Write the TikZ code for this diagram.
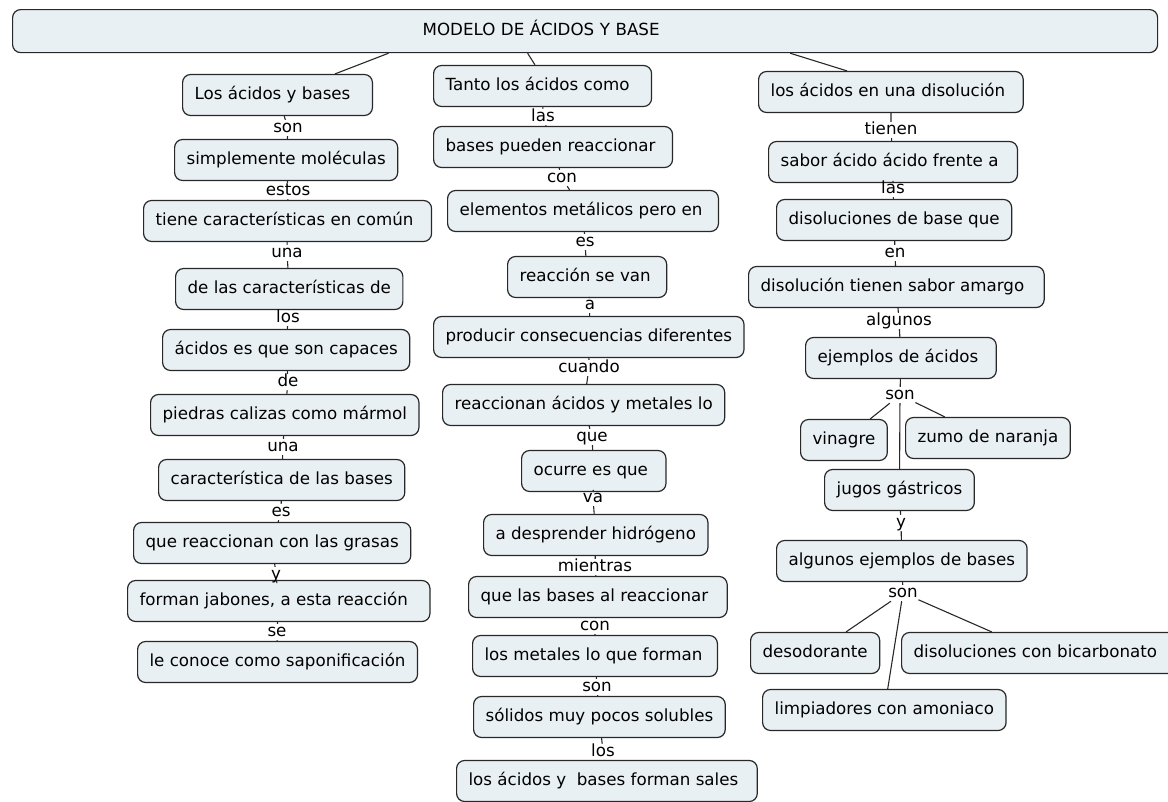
\documentclass[tikz,border=0pt]{standalone}
\usepackage{fontspec}
\setmainfont{DejaVu Sans}
\newcommand\mapfont{\fontsize{16.7pt}{20pt}\selectfont}
\definecolor{boxfill}{RGB}{233,240,243}
\definecolor{boxline}{RGB}{40,40,40}
\begin{document}
\begin{tikzpicture}[x=1pt,y=-1pt,
  cbox/.style={draw=boxline, line width=1.2pt, fill=boxfill, rounded corners=8pt,
    font=\mapfont, inner xsep=12pt, inner ysep=0pt, minimum height=41pt,
    text height=12.5pt, text depth=3.5pt, anchor=west},
  padr/.style={execute at end node={\hspace*{#1}}},
  lab/.style={font=\mapfont, inner sep=0.5pt, text height=12pt, text depth=3pt},
  link/.style={draw=boxline, line width=1.1pt}]
\useasboundingbox (0,0) rectangle (1168,801);

% title
\node[cbox, anchor=north west, minimum width=1145pt, minimum height=43pt,
      text width=1121pt, align=left] (title) at (12,9) {\hspace*{398pt}MODELO DE ÁCIDOS Y BASE};

% left column
\node[cbox, padr=10pt] (L1) at (182,95) {Los ácidos y bases};
\node[cbox] (L2) at (174,160) {simplemente moléculas};
\node[cbox, padr=6pt] (L3) at (143,221) {tiene características en común};
\node[cbox] (L4) at (175,289) {de las características de};
\node[cbox] (L5) at (162,350) {ácidos es que son capaces};
\node[cbox] (L6) at (150,415) {piedras calizas como mármol};
\node[cbox] (L7) at (158,480) {característica de las bases};
\node[cbox] (L8) at (133,543) {que reaccionan con las grasas};
\node[cbox, padr=10pt] (L9) at (127,601) {forman jabones, a esta reacción};
\node[cbox] (L10) at (137,662) {le conoce como saponificación};

\node[lab] (l1) at (288,128) {son};
\node[lab] (l2) at (288,191) {estos};
\node[lab] (l3) at (287,253) {una};
\node[lab] (l4) at (288,318) {los};
\node[lab] (l5) at (288,382) {de};
\node[lab] (l6) at (283,447) {una};
\node[lab] (l7) at (281,512) {es};
\node[lab] (l8) at (276,575) {y};
\node[lab] (l9) at (277,632) {se};

% middle column
\node[cbox, padr=10pt] (M1) at (433,86) {Tanto los ácidos como};
\node[cbox, padr=5pt] (M2) at (433,147) {bases pueden reaccionar};
\node[cbox, padr=4pt] (M3) at (447,211) {elementos metálicos pero en};
\node[cbox, padr=4pt] (M4) at (507,277) {reacción se van};
\node[cbox] (M5) at (433,337) {producir consecuencias diferentes};
\node[cbox] (M6) at (442,405) {reaccionan ácidos y metales lo};
\node[cbox, padr=6pt] (M7) at (521,471) {ocurre es que};
\node[cbox] (M8) at (483,535) {a desprender hidrógeno};
\node[cbox, padr=7pt] (M9) at (468,597) {que las bases al reaccionar};
\node[cbox, padr=3pt] (M10) at (472,656) {los metales lo que forman};
\node[cbox] (M11) at (473,717) {sólidos muy pocos solubles};
\node[cbox, padr=7pt] (M12) at (456,781) {los ácidos y \ bases forman sales};

\node[lab] (m1) at (543,117) {las};
\node[lab] (m2) at (562,178) {con};
\node[lab] (m3) at (585,242) {es};
\node[lab] (m4) at (590,305) {a};
\node[lab] (m5) at (589,368) {cuando};
\node[lab] (m6) at (592,437) {que};
\node[lab] (m7) at (593,498) {va};
\node[lab] (m8) at (595,567) {mientras};
\node[lab] (m9) at (595,626) {con};
\node[lab] (m10) at (597,687) {son};
\node[lab] (m11) at (603,752) {los};

% right column
\node[cbox, padr=6pt] (R1) at (758,92) {los ácidos en una disolución};
\node[cbox, padr=7pt] (R2) at (768,162) {sabor ácido ácido frente a};
\node[cbox] (R3) at (776,220) {disoluciones de base que};
\node[cbox, padr=8pt] (R4) at (748,287) {disolución tienen sabor amargo};
\node[cbox, padr=6pt] (R5) at (805,358) {ejemplos de ácidos};
\node[cbox] (R6) at (800,440) {vinagre};
\node[cbox] (R7) at (905,438) {zumo de naranja};
\node[cbox] (R8) at (824,490) {jugos gástricos};
\node[cbox] (R9) at (776,561) {algunos ejemplos de bases};
\node[cbox] (R10) at (750,653) {desodorante};
\node[cbox, padr=9pt] (R11) at (901,653) {disoluciones con bicarbonato};
\node[cbox] (R12) at (762,710) {limpiadores con amoniaco};

\node[lab] (r1) at (891,130) {tienen};
\node[lab] (r2) at (893,189) {las};
\node[lab] (r3) at (895,253) {en};
\node[lab] (r4) at (899,321) {algunos};
\node[lab] (r5) at (900,395) {son};
\node[lab] (r6) at (901,523) {y};
\node[lab] (r7) at (903,593) {son};

% links from title
\draw[link] ([xshift=153pt]L1.north west) -- ([xshift=-196.5pt]title.south);
\draw[link] ([xshift=102pt]M1.north west) -- ([xshift=-57.5pt]title.south);
\draw[link] ([xshift=89pt]R1.north west) -- ([xshift=205pt]title.south);

% left chain
\draw[link] (L1) -- (l1) -- (L2);
\draw[link] (L2) -- (l2) -- (L3);
\draw[link] (L3) -- (l3) -- (L4);
\draw[link] (L4) -- (l4) -- (L5);
\draw[link] (L5) -- (l5) -- (L6);
\draw[link] (L6) -- (l6) -- (L7);
\draw[link] (L7) -- (l7) -- (L8);
\draw[link] (L8) -- (l8) -- (L9);
\draw[link] (L9) -- (l9) -- (L10);

% middle chain
\draw[link] (M1) -- (m1) -- (M2);
\draw[link] (M2) -- (m2) -- (M3);
\draw[link] (M3) -- (m3) -- (M4);
\draw[link] (M4) -- (m4) -- (M5);
\draw[link] (M5) -- (m5) -- (M6);
\draw[link] (M6) -- (m6) -- (M7);
\draw[link] (M7) -- (m7) -- (M8);
\draw[link] (M8) -- (m8) -- (M9);
\draw[link] (M9) -- (m9) -- (M10);
\draw[link] (M10) -- (m10) -- (M11);
\draw[link] (M11) -- (m11) -- (M12);

% right chain
\draw[link] (R1) -- (r1) -- (R2);
\draw[link] (R2) -- (r2) -- (R3);
\draw[link] (R3) -- (r3) -- (R4);
\draw[link] (R4) -- (r4) -- (R5);
\draw[link] (R5) -- (r5);
\draw[link] (r5) -- (R6);
\draw[link] (r5) -- (R7);
\draw[link] (r5) -- (R8);
\draw[link] (R8) -- (r6) -- (R9);
\draw[link] (R9) -- (r7);
\draw[link] (r7) -- (R10);
\draw[link] (r7) -- (R11);
\draw[link] (r7) -- (R12);
\end{tikzpicture}
\end{document}
